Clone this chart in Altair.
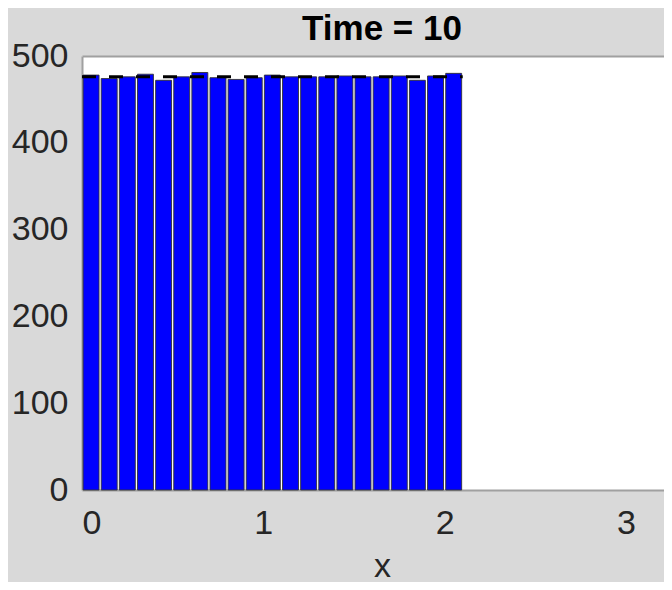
import altair as alt
import pandas as pd

bin_left = [round(0.1 * i, 1) for i in range(21)]
bin_width = 0.1
counts = [478, 474, 476, 479, 472, 476, 481, 475, 473, 475, 478,
          476, 476, 476, 477, 476, 476, 477, 472, 477, 480]
expected_level = sum(counts) / len(counts)
x_ticks = [0, 1, 2, 3]
y_ticks = [0, 100, 200, 300, 400, 500]

df = pd.DataFrame({"left": bin_left, "count": counts})
df["right"] = df["left"] + bin_width

line_df = pd.DataFrame({"x0": [bin_left[0]], "x1": [bin_left[-1] + bin_width],
                        "level": [expected_level]})

FONT = "Liberation Sans"
PX_PER_UNIT = 181.3
PLOT_W = 582

xscale = alt.Scale(domain=[0, PLOT_W / PX_PER_UNIT], nice=False, zero=False)
yscale = alt.Scale(domain=[0, 500], nice=False)

bars = alt.Chart(df).transform_calculate(
    l="datum.left + 0.006", r="datum.right - 0.006"
).mark_rect(color="#0000FF", stroke="#333333", strokeWidth=0.9).encode(
    x=alt.X("l:Q", scale=xscale,
            axis=alt.Axis(values=x_ticks, title="x", format="d", grid=False,
                          ticks=False, labelPadding=16, titlePadding=9,
                          titleX=300, titleAnchor="middle",
                          domainColor="#a0a0a0", domainWidth=2)),
    x2="r:Q",
    y=alt.Y("count:Q", scale=yscale,
            axis=alt.Axis(values=y_ticks, title=None, grid=False, ticks=False,
                          labelPadding=14, domainColor="#a0a0a0", domainWidth=2)),
    y2=alt.datum(0),
)

dash = alt.Chart(line_df).mark_rule(color="black", strokeWidth=3,
                                    strokeDash=[14, 13]).encode(
    x=alt.X("x0:Q", scale=xscale,
            axis=alt.Axis(orient="top", labels=False, ticks=False, title=None,
                          grid=False, domainColor="#a0a0a0", domainWidth=2)),
    x2="x1:Q",
    y="level:Q",
)

chart = alt.layer(bars, dash).resolve_axis(x="independent").properties(
    width=PLOT_W, height=434,
    title=alt.TitleParams("Time = 10", font=FONT, fontSize=35, fontWeight="bold",
                          color="black", offset=0, dy=8, anchor="middle", dx=9,
                          frame="group"),
    autosize=alt.AutoSizeParams(type="none"),
    padding={"left": 74, "top": 48, "right": 0, "bottom": 92},
    background="#D9D9D9",
).configure_view(
    fill="white", stroke=None
).configure_axis(
    labelFont=FONT, labelFontSize=34, labelColor="#262626",
    titleFont=FONT, titleFontSize=34, titleColor="#262626", titleFontWeight="normal",
)

chart.save("out.html", embed_options={"renderer": "svg", "actions": False})
